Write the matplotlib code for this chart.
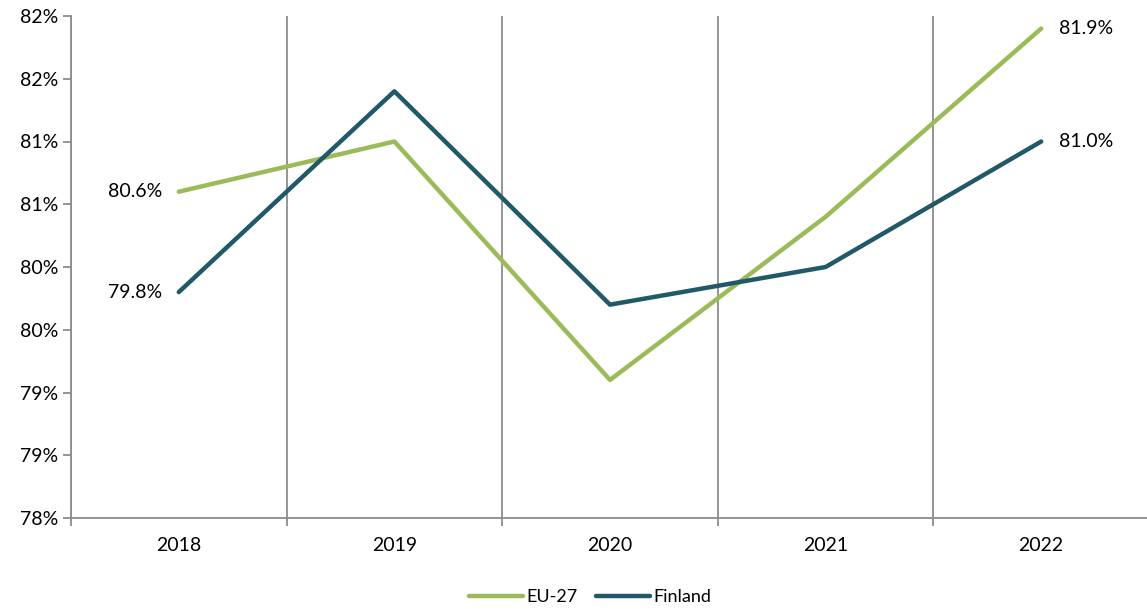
import math
import matplotlib
matplotlib.use('Agg')
import matplotlib.pyplot as plt
from matplotlib.ticker import FuncFormatter, MultipleLocator

plt.rcParams['font.family'] = ['Lato', 'DejaVu Sans']

years = ['2018', '2019', '2020', '2021', '2022']
eu27 = [80.6, 81.0, 79.1, 80.4, 81.9]
finland = [79.8, 81.4, 79.7, 80.0, 81.0]

green = '#9BBB59'
teal = '#215968'
grey = '#8C8C8C'

fig = plt.figure(figsize=(11.47, 6.12), dpi=100)
ax = fig.add_axes([71/1147, 1-518/612, 1078/1147, 502/612])

x = list(range(len(years)))
ax.plot(x, eu27, color=green, lw=3.2, label='EU-27', solid_capstyle='round')
ax.plot(x, finland, color=teal, lw=3.2, label='Finland', solid_capstyle='round')

ax.set_xlim(-0.5, len(years) - 0.5)
ax.set_ylim(78, 82)
ax.yaxis.set_major_locator(MultipleLocator(0.5))
ax.yaxis.set_major_formatter(FuncFormatter(lambda v, p: '{}%'.format(int(math.floor(v + 0.5)))))

ax.set_xticks(x)
ax.set_xticklabels(years)
ax.set_xticks([i - 0.5 for i in range(len(years) + 1)], minor=True)
ax.tick_params(axis='x', which='major', length=0, pad=14, labelsize=14)
ax.tick_params(axis='x', which='minor', length=6, color=grey, width=1.3, direction='out')
ax.tick_params(axis='y', length=6, color=grey, width=1.3, labelsize=14, pad=3)
ax.grid(True, axis='x', which='minor', color=grey, lw=1.3)

for s in ['top', 'right']:
    ax.spines[s].set_visible(False)
for s in ['left', 'bottom']:
    ax.spines[s].set_color(grey)
    ax.spines[s].set_linewidth(1.3)
ax.set_axisbelow(True)

# data labels at both ends
ax.annotate('{:.1f}%'.format(eu27[0]), (x[0], eu27[0]), xytext=(-12, 0), textcoords='offset points',
            ha='right', va='center', fontsize=14)
ax.annotate('{:.1f}%'.format(finland[0]), (x[0], finland[0]), xytext=(-12, 0), textcoords='offset points',
            ha='right', va='center', fontsize=14)
ax.annotate('{:.1f}%'.format(eu27[-1]), (x[-1], eu27[-1]), xytext=(13, 0), textcoords='offset points',
            ha='left', va='center', fontsize=14)
ax.annotate('{:.1f}%'.format(finland[-1]), (x[-1], finland[-1]), xytext=(13, 0), textcoords='offset points',
            ha='left', va='center', fontsize=14)

fig.legend(loc='center', bbox_to_anchor=(590/1147, 1-597/612), ncol=2, frameon=False,
           fontsize=13, handlelength=3.0, columnspacing=1.0, handletextpad=0.2)

fig.savefig('out.png', dpi=100)
